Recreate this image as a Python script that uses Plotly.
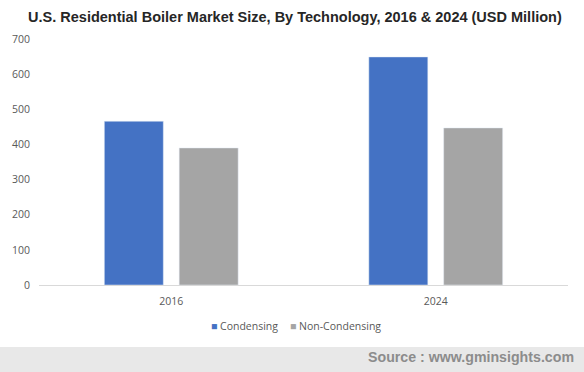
import plotly.graph_objects as go

years = ["2016", "2024"]
condensing = [466, 649]
non_condensing = [390, 447]
y_ticks = [0, 100, 200, 300, 400, 500, 600, 700]
series_names = ["Condensing", "Non-Condensing"]
series_colors = ["#4472C4", "#A5A5A5"]

fig = go.Figure()
fig.add_trace(go.Bar(name=series_names[0], x=years, y=condensing, marker_color=series_colors[0]))
fig.add_trace(go.Bar(name=series_names[1], x=years, y=non_condensing, marker_color=series_colors[1]))

tick_font = dict(family="Open Sans, Liberation Sans, sans-serif", size=10.5, color="#595959")

L = 34
H = 246.0
W = 534.0
def py(pix):
    return (285 - pix) / H
def px(pix):
    return (pix - L) / W

annotations = [
    dict(text="<b>Source : www.gminsights.com</b>", xref="paper", yref="paper",
         x=px(576), xanchor="right", y=py(357), yanchor="middle", showarrow=False,
         font=dict(family="Liberation Sans, Arial, sans-serif", size=14.2, color="#8C8C8C")),
    dict(text="<span style='color:%s'>■</span> %s" % (series_colors[0], series_names[0]),
         xref="paper", yref="paper", x=px(206), xanchor="left", y=py(326), yanchor="middle",
         showarrow=False, font=tick_font),
    dict(text="<span style='color:%s'>■</span> %s" % (series_colors[1], series_names[1]),
         xref="paper", yref="paper", x=px(285), xanchor="left", y=py(326), yanchor="middle",
         showarrow=False, font=tick_font),
]

fig.update_layout(
    width=584, height=372,
    margin=dict(l=L, r=584 - L - int(W), t=39, b=87),
    paper_bgcolor="white", plot_bgcolor="white",
    barmode="group", bargap=0.434, bargroupgap=0.212,
    showlegend=False,
    title=dict(text="<b>U.S. Residential Boiler Market Size, By Technology, 2016 &amp; 2024 (USD Million)</b>",
               x=0.505, xanchor="center", y=0.955, yanchor="middle",
               font=dict(family="Liberation Sans, Arial, sans-serif", size=14.5, color="#262626")),
    xaxis=dict(showline=True, linecolor="#D9D9D9", linewidth=1, ticks="", tickfont=tick_font,
               showgrid=False, ticklabelstandoff=6),
    yaxis=dict(range=[0, 700], tickvals=y_ticks, showgrid=False, zeroline=False, showline=False,
               tickfont=tick_font, ticklabelstandoff=8),
    shapes=[dict(type="rect", xref="paper", yref="paper", x0=-0.2, x1=1.1,
                 y0=py(372), y1=py(347),
                 fillcolor="#E8E8E8", line=dict(width=0), layer="below")],
    annotations=annotations,
)

fig.write_html("out.html", config={"displayModeBar": False},
               post_script="document.body.style.margin='0';document.body.style.overflow='hidden';")
